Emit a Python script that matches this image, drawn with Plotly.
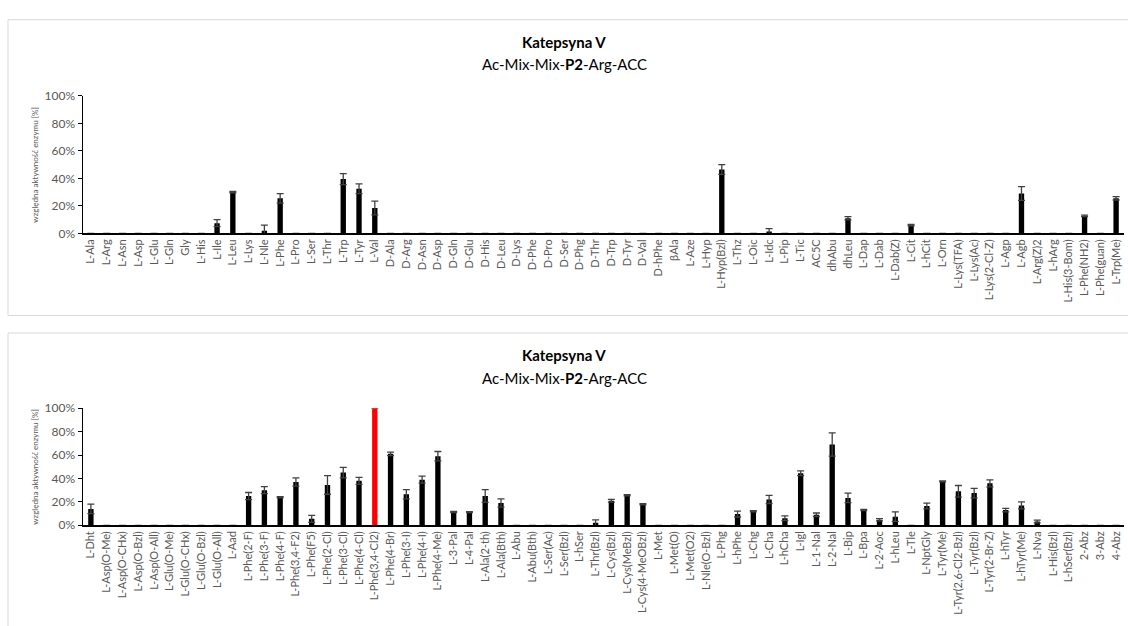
import plotly.graph_objects as go

# ---------------- data ----------------
top_categories = [
    "L-Ala", "L-Arg", "L-Asn", "L-Asp", "L-Glu", "L-Gln", "Gly", "L-His", "L-Ile", "L-Leu",
    "L-Lys", "L-Nle", "L-Phe", "L-Pro", "L-Ser", "L-Thr", "L-Trp", "L-Tyr", "L-Val", "D-Ala",
    "D-Arg", "D-Asn", "D-Asp", "D-Gln", "D-Glu", "D-His", "D-Leu", "D-Lys", "D-Phe", "D-Pro",
    "D-Ser", "D-Phg", "D-Thr", "D-Trp", "D-Tyr", "D-Val", "D-hPhe", "βAla", "L-Aze", "L-Hyp",
    "L-Hyp(Bzl)", "L-Thz", "L-Oic", "L-Idc", "L-Pip", "L-Tic", "AC5C", "dhAbu", "dhLeu", "L-Dap",
    "L-Dab", "L-Dab(Z)", "L-Cit", "L-hCit", "L-Orn", "L-Lys(TFA)", "L-Lys(Ac)", "L-Lys(2-Cl-Z)",
    "L-Agp", "L-Agb", "L-Arg(Z)2", "L-hArg", "L-His(3-Bom)", "L-Phe(NH2)", "L-Phe(guan)", "L-Trp(Me)",
]
top_values = [
    0, 0, 0, 0, 0, 0, 0, 0, 7.5, 30,
    0, 2, 25.5, 0, 0, 0, 39.5, 32.5, 18.5, 0,
    0, 0, 0, 0, 0, 0, 0, 0, 0, 0,
    0, 0, 0, 0, 0, 0, 0, 0, 0, 0,
    46.5, 0, 0, 1.5, 0, 0, 0, 0, 11, 0,
    0, 0, 6, 0, 0, 0, 0, 0,
    0, 29, 0, 0, 0, 12.8, 0, 25.5,
]
top_errors = [
    None, None, None, None, None, None, None, None, 2.5, 0.5,
    None, 4, 3.5, None, None, None, 4, 3.5, 5, None,
    None, None, None, None, None, None, None, None, None, None,
    None, None, None, None, None, None, None, None, None, None,
    3.5, None, None, 2, None, None, None, None, 1.2, None,
    None, None, 0.5, None, None, None, None, None,
    None, 5, None, None, None, 0.5, None, 1.2,
]

bottom_categories = [
    "L-Dht", "L-Asp(O-Me)", "L-Asp(O-CHx)", "L-Asp(O-Bzl)", "L-Asp(O-All)", "L-Glu(O-Me)",
    "L-Glu(O-CHx)", "L-Glu(O-Bzl)", "L-Glu(O-All)", "L-Aad", "L-Phe(2-F)", "L-Phe(3-F)",
    "L-Phe(4-F)", "L-Phe(3,4-F2)", "L-Phe(F5)", "L-Phe(2-Cl)", "L-Phe(3-Cl)", "L-Phe(4-Cl)",
    "L-Phe(3,4-Cl2)", "L-Phe(4-Br)", "L-Phe(3-I)", "L-Phe(4-I)", "L-Phe(4-Me)", "L-3-Pal",
    "L-4-Pal", "L-Ala(2-th)", "L-Ala(Bth)", "L-Abu", "L-Abu(Bth)", "L-Ser(Ac)", "L-Ser(Bzl)",
    "L-hSer", "L-Thr(Bzl)", "L-Cys(Bzl)", "L-Cys(MeBzl)", "L-Cys(4-MeOBzl)", "L-Met",
    "L-Met(O)", "L-Met(O2)", "L-Nle(O-Bzl)", "L-Phg", "L-hPhe", "L-Chg", "L-Cha", "L-hCha",
    "L-Igl", "L-1-Nal", "L-2-Nal", "L-Bip", "L-Bpa", "L-2-Aoc", "L-hLeu", "L-Tle", "L-NptGly",
    "L-Tyr(Me)", "L-Tyr(2,6-Cl2-Bzl)", "L-Tyr(Bzl)", "L-Tyr(2-Br-Z)", "L-hTyr", "L-hTyr(Me)",
    "L-Nva", "L-His(Bzl)", "L-hSer(Bzl)", "2-Abz", "3-Abz", "4-Abz",
]
bottom_values = [
    14, 0, 0, 0, 0, 0,
    0, 0, 0, 0, 25, 30,
    24, 37, 5.5, 34.5, 45, 38,
    100, 61, 26.5, 39, 59, 11.3,
    11.3, 25, 19, 0, 0, 0, 0,
    0, 2.2, 21, 25.6, 18, 0,
    0, 0, 0, 0, 9.6, 12, 22, 6,
    44.4, 9, 69, 23.4, 13, 4.7, 7.4, 0, 16.5,
    37.5, 29, 27.5, 35.8, 13, 17,
    3.3, 0, 0, 0, 0, 0,
]
bottom_errors = [
    4, None, None, None, None, None,
    None, None, None, None, 3, 3,
    0.5, 3.5, 3, 8, 4.5, 3,
    None, 1.5, 4, 3, 4, 0.5,
    0.4, 5.5, 3.5, None, None, None, None,
    None, 2.5, 1.2, 0.5, 0.5, None,
    None, None, None, None, 2.5, 0.5, 3.5, 2,
    2, 1.5, 10, 4, 0.5, 1, 4, None, 2.5,
    0.5, 5, 4, 3, 1.5, 3,
    1.2, None, None, None, None, None,
]

panel_title = "<b>Katepsyna V</b>"
panel_subtitle = "Ac-Mix-Mix-<b>P2</b>-Arg-ACC"
y_title = "względna aktywność enzymu [%]"
y_ticks = [0, 20, 40, 60, 80, 100]
y_ticktext = [f"{v}%" for v in y_ticks]

# ---------------- figure ----------------
W, H = 1128, 626
FONT = "Lato, 'Open Sans', sans-serif"
TICK_COLOR = "#595959"


def py(pix):
    return 1 - pix / H


def px(pix):
    return pix / W


max_val = max(bottom_values)
bottom_colors = ["#FF0000" if v == max_val else "#000000" for v in bottom_values]

fig = go.Figure()

fig.add_trace(go.Bar(
    x=top_categories, y=top_values, xaxis="x", yaxis="y",
    marker=dict(color="#000000", line=dict(width=0)),
    error_y=dict(type="data", array=top_errors, visible=True,
                 color="#404040", thickness=1.3, width=3.5),
    showlegend=False,
))
fig.add_trace(go.Bar(
    x=bottom_categories, y=bottom_values, xaxis="x2", yaxis="y2",
    marker=dict(color=bottom_colors, line=dict(width=0)),
    error_y=dict(type="data", array=bottom_errors, visible=True,
                 color="#404040", thickness=1.3, width=3.5),
    showlegend=False,
))

x_dom = [px(83), px(1124)]
common_x = dict(
    type="category", showline=True, linecolor="#000000", linewidth=1.5,
    ticks="", tickangle=-90, showgrid=False, zeroline=False,
    tickfont=dict(family=FONT, size=11, color=TICK_COLOR),
    range=[-0.5, 65.5], domain=x_dom,
)
common_y = dict(
    range=[0, 100], tickmode="array", tickvals=y_ticks, ticktext=y_ticktext,
    showline=True, linecolor="#000000", linewidth=1.5,
    ticks="outside", ticklen=4, tickcolor="#000000", tickwidth=1,
    showgrid=False, zeroline=False,
    tickfont=dict(family=FONT, size=12, color=TICK_COLOR),
)

fig.update_layout(
    width=W, height=H,
    margin=dict(l=0, r=0, t=0, b=0),
    paper_bgcolor="white", plot_bgcolor="white",
    bargap=0.66,
    font=dict(family=FONT),
    xaxis=dict(**common_x, anchor="y"),
    yaxis=dict(**common_y, domain=[py(231), py(90)], anchor="x"),
    xaxis2=dict(**common_x, anchor="y2"),
    yaxis2=dict(**common_y, domain=[py(530), py(410)], anchor="x2"),
)

# panel borders
fig.add_shape(type="rect", xref="paper", yref="paper",
              x0=px(8), x1=1.02, y0=py(315), y1=py(12),
              line=dict(color="#d9d9d9", width=1), fillcolor="rgba(0,0,0,0)", layer="below")
fig.add_shape(type="rect", xref="paper", yref="paper",
              x0=px(8), x1=1.02, y0=-0.03, y1=py(333),
              line=dict(color="#d9d9d9", width=1), fillcolor="rgba(0,0,0,0)", layer="below")

# titles
for t_y, s_y, ax_mid in [(35, 57, (90 + 231) / 2), (356, 379, (410 + 530) / 2)]:
    fig.add_annotation(text=panel_title, x=0.5, y=py(t_y), xref="paper", yref="paper",
                       showarrow=False, xanchor="center", yanchor="middle",
                       font=dict(family=FONT, size=15, color="#000000"))
    fig.add_annotation(text=panel_subtitle, x=0.5, y=py(s_y), xref="paper", yref="paper",
                       showarrow=False, xanchor="center", yanchor="middle",
                       font=dict(family=FONT, size=15, color="#000000"))
    fig.add_annotation(text=y_title, x=px(35), y=py(ax_mid), xref="paper", yref="paper",
                       showarrow=False, xanchor="center", yanchor="middle", textangle=-90,
                       font=dict(family=FONT, size=8, color=TICK_COLOR))

fig.write_html(
    "out.html",
    config={"displayModeBar": False, "staticPlot": True},
    post_script="document.body.style.margin='0';document.body.style.overflow='hidden';",
)
